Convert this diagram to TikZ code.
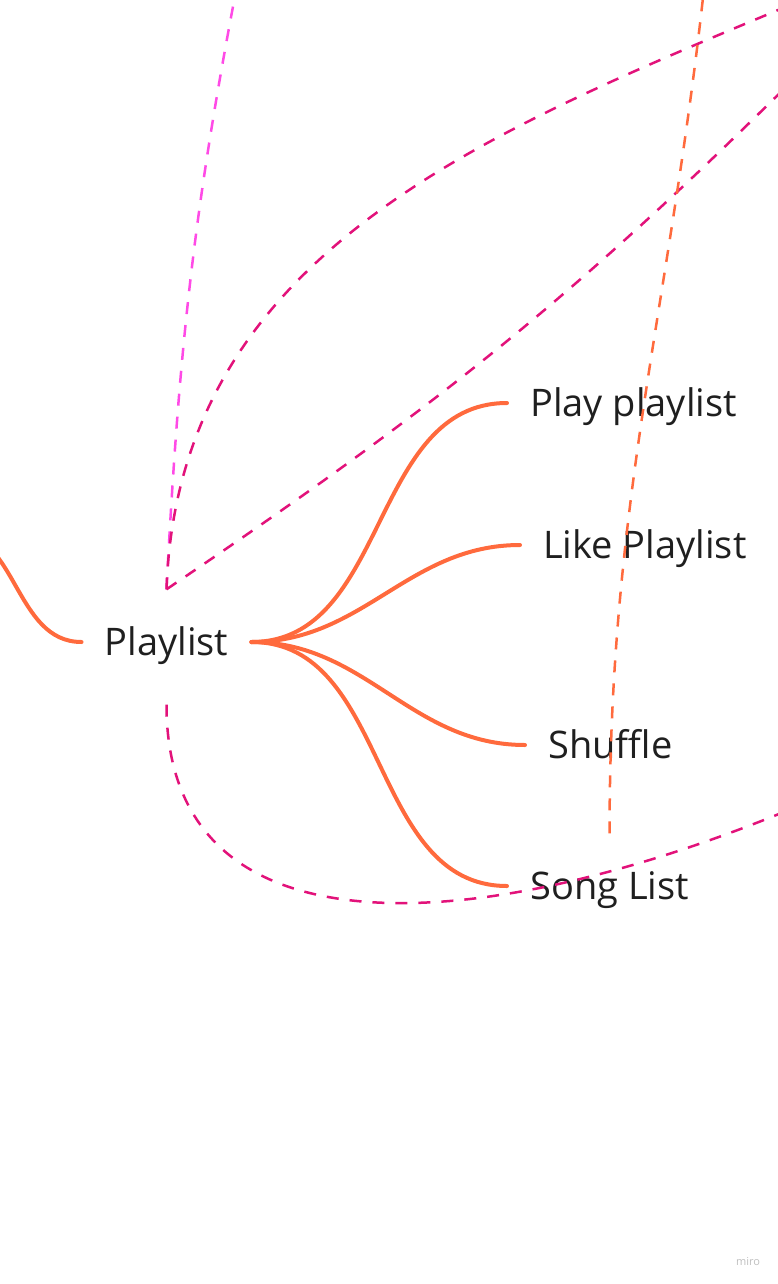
\documentclass[tikz,border=0pt]{standalone}
\usepackage{fontspec}
\setmainfont{Open Sans}
\usepackage{xcolor}
\usepackage{tikz}

\definecolor{naranja}{HTML}{FF6A3D}
\definecolor{fucsia}{HTML}{E2127A}
\definecolor{rosa}{HTML}{FF4AE6}

\begin{document}
\begin{tikzpicture}[x=1pt, y=1pt,
  tema/.style={font=\fontsize{38}{46}\selectfont, text=black!88,
               inner xsep=23pt, inner ysep=39pt, text height=27pt, text depth=0pt},
  rama/.style={naranja, line width=4pt, line cap=round},
  enl/.style={line width=2.5pt, dash pattern=on 12pt off 11pt},
  marca/.style={font=\fontsize{11}{13}\selectfont, text=black!25}]
\useasboundingbox (0,0) rectangle (778,-1284);
\clip (0,0) rectangle (778,-1284);
\node[tema] (playlist) at (166.5,-642) {Playlist};
\node[tema, anchor=west] (play) at (507,-403) {Play playlist};
\node[tema, anchor=west] (like) at (520,-545) {Like Playlist};
\node[tema, anchor=west] (shuffle) at (525,-745) {Shuffle};
\node[tema, anchor=west] (songs) at (507,-886) {Song List};
\coordinate (raiz) at (-50,-530);
\coordinate (finA) at (240,30);
\coordinate (finB) at (840,16);
\coordinate (finC) at (810,-63);
\coordinate (finD) at (706,30);
\coordinate (finE) at (900,-760);
\draw[rama] (raiz) to[out=0, in=180] (playlist.west);
\draw[rama] (playlist.east) to[out=0, in=180] (play.west);
\draw[rama] (playlist.east) to[out=0, in=180] (like.west);
\draw[rama] (playlist.east) to[out=0, in=180] (shuffle.west);
\draw[rama] (playlist.east) to[out=0, in=180] (songs.west);
\draw[enl, rosa] (playlist.north) to[out=87, in=-101] (finA);
\draw[enl, fucsia] (playlist.north) to[out=88, in=203] (finB);
\draw[enl, fucsia] (playlist.north) to[out=34, in=225] (finC);
\draw[enl, naranja] (songs.north) to[out=90, in=-96] (finD);
\draw[enl, fucsia] ([yshift=-10pt]playlist.south)
  to[out=-90, in=206, out distance=280pt, in distance=400pt] (finE);
\node[marca] (miro) at (748,-1262) {miro};
\end{tikzpicture}
\end{document}
